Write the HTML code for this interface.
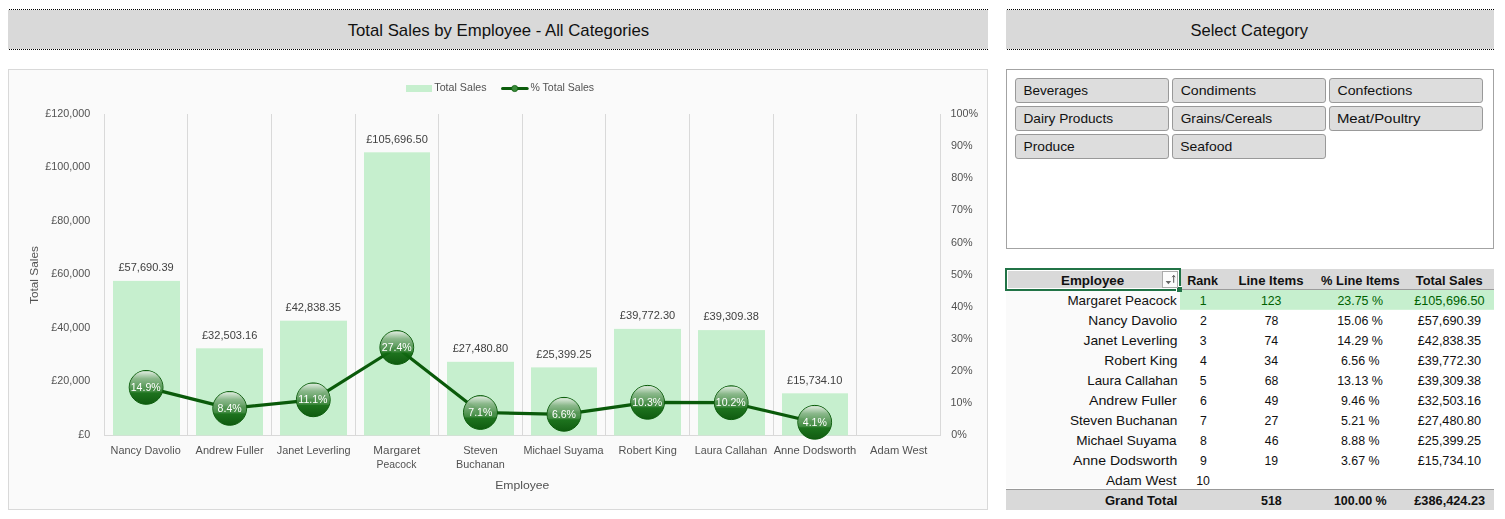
<!DOCTYPE html>
<html><head><meta charset="utf-8"><title>Dashboard</title>
<style>
html,body{margin:0;padding:0;background:#fff;}
body{width:1505px;height:519px;overflow:hidden;font-family:"Liberation Sans",sans-serif;}
svg{display:block;}
text{font-family:"Liberation Sans",sans-serif;}
</style></head><body>
<svg width="1505" height="519" viewBox="0 0 1505 519">
<defs>
<linearGradient id="base" x1="0" y1="0" x2="0" y2="1"><stop offset="0.6" stop-color="#167016"/><stop offset="1" stop-color="#045204"/></linearGradient>
<linearGradient id="gloss" x1="0" y1="0" x2="0" y2="1">
<stop offset="0" stop-color="#fff" stop-opacity="0.86"/>
<stop offset="0.35" stop-color="#fff" stop-opacity="0.48"/>
<stop offset="1" stop-color="#fff" stop-opacity="0.12"/>
</linearGradient>
<filter id="idf" x="0" y="0" width="1505" height="519" filterUnits="userSpaceOnUse"><feOffset dx="0" dy="0"/></filter>
<clipPath id="bc"><circle cx="0" cy="0" r="16.6"/></clipPath>
<g id="ball">
<circle cx="0" cy="0" r="16.9" fill="url(#base)" fill-opacity="0.94" stroke="#0b5c0b" stroke-width="1"/>
<rect x="-17" y="-16.2" width="34" height="21.2" fill="url(#gloss)" clip-path="url(#bc)"/>
</g>
</defs>
<rect width="1505" height="519" fill="#fff"/>

<rect x="8" y="10" width="980" height="39" fill="#d9d9d9"/>
<line x1="9" y1="9.5" x2="988" y2="9.5" stroke="#000" stroke-width="1" stroke-dasharray="1 1"/>
<line x1="9" y1="49.5" x2="988" y2="49.5" stroke="#000" stroke-width="1" stroke-dasharray="1 1"/>
<rect x="1006" y="10" width="488" height="39" fill="#d9d9d9"/>
<line x1="1007" y1="9.5" x2="1494" y2="9.5" stroke="#000" stroke-width="1" stroke-dasharray="1 1"/>
<line x1="1007" y1="49.5" x2="1494" y2="49.5" stroke="#000" stroke-width="1" stroke-dasharray="1 1"/>
<rect x="8.5" y="69.5" width="979" height="440" fill="#fafafa" stroke="#d9d9d9"/>
<line x1="104.5" y1="114.0" x2="104.5" y2="435.9" stroke="#d9d9d9" stroke-width="1"/>
<line x1="187.5" y1="114.0" x2="187.5" y2="435.9" stroke="#d9d9d9" stroke-width="1"/>
<line x1="271.5" y1="114.0" x2="271.5" y2="435.9" stroke="#d9d9d9" stroke-width="1"/>
<line x1="355.5" y1="114.0" x2="355.5" y2="435.9" stroke="#d9d9d9" stroke-width="1"/>
<line x1="438.5" y1="114.0" x2="438.5" y2="435.9" stroke="#d9d9d9" stroke-width="1"/>
<line x1="522.5" y1="114.0" x2="522.5" y2="435.9" stroke="#d9d9d9" stroke-width="1"/>
<line x1="605.5" y1="114.0" x2="605.5" y2="435.9" stroke="#d9d9d9" stroke-width="1"/>
<line x1="689.5" y1="114.0" x2="689.5" y2="435.9" stroke="#d9d9d9" stroke-width="1"/>
<line x1="773.5" y1="114.0" x2="773.5" y2="435.9" stroke="#d9d9d9" stroke-width="1"/>
<line x1="856.5" y1="114.0" x2="856.5" y2="435.9" stroke="#d9d9d9" stroke-width="1"/>
<line x1="940.5" y1="114.0" x2="940.5" y2="435.9" stroke="#d9d9d9" stroke-width="1"/>
<line x1="104" y1="435.5" x2="941" y2="435.5" stroke="#d9d9d9" stroke-width="1"/>
<rect x="113" y="280.9" width="67" height="154.5" fill="#c6efce"/>
<rect x="196" y="348.3" width="67" height="87.1" fill="#c6efce"/>
<rect x="280" y="320.7" width="67" height="114.7" fill="#c6efce"/>
<rect x="364" y="152.3" width="66" height="283.1" fill="#c6efce"/>
<rect x="447" y="361.8" width="67" height="73.6" fill="#c6efce"/>
<rect x="531" y="367.4" width="66" height="68.0" fill="#c6efce"/>
<rect x="614" y="328.9" width="67" height="106.5" fill="#c6efce"/>
<rect x="698" y="330.1" width="67" height="105.3" fill="#c6efce"/>
<rect x="782" y="393.3" width="66" height="42.1" fill="#c6efce"/>
<rect x="406" y="85" width="26" height="7" fill="#c6efce"/>
<line x1="502.5" y1="88.5" x2="527.2" y2="88.5" stroke="#0b5c0b" stroke-width="3" stroke-linecap="round"/>
<circle cx="514.7" cy="88.5" r="3.1" fill="#3a8a3a" stroke="#0b5c0b" stroke-width="0.8"/>
<polyline fill="none" stroke="#0a5a0a" stroke-width="3.2" stroke-linejoin="round" points="146.1,387.4 229.7,408.4 313.3,399.8 396.8,347.5 480.4,412.5 564.0,414.3 647.6,402.3 731.2,402.7 814.7,422.3"/>
<use href="#ball" x="146.1" y="387.4"/>
<use href="#ball" x="229.7" y="408.4"/>
<use href="#ball" x="313.3" y="399.8"/>
<use href="#ball" x="396.8" y="347.5"/>
<use href="#ball" x="480.4" y="412.5"/>
<use href="#ball" x="564.0" y="414.3"/>
<use href="#ball" x="647.6" y="402.3"/>
<use href="#ball" x="731.2" y="402.7"/>
<use href="#ball" x="814.7" y="422.3"/>
<rect x="1006.5" y="69.5" width="487" height="179" fill="#fff" stroke="#a3a3a3"/>
<rect x="1015.5" y="78.5" width="153" height="24" rx="2.6" ry="2.6" fill="#dddddd" stroke="#999"/>
<rect x="1172.5" y="78.5" width="153" height="24" rx="2.6" ry="2.6" fill="#dddddd" stroke="#999"/>
<rect x="1329.5" y="78.5" width="153" height="24" rx="2.6" ry="2.6" fill="#dddddd" stroke="#999"/>
<rect x="1015.5" y="106.5" width="153" height="24" rx="2.6" ry="2.6" fill="#dddddd" stroke="#999"/>
<rect x="1172.5" y="106.5" width="153" height="24" rx="2.6" ry="2.6" fill="#dddddd" stroke="#999"/>
<rect x="1329.5" y="106.5" width="153" height="24" rx="2.6" ry="2.6" fill="#dddddd" stroke="#999"/>
<rect x="1015.5" y="134.5" width="153" height="24" rx="2.6" ry="2.6" fill="#dddddd" stroke="#999"/>
<rect x="1172.5" y="134.5" width="153" height="24" rx="2.6" ry="2.6" fill="#dddddd" stroke="#999"/>
<rect x="1006" y="269" width="488" height="21" fill="#d9d9d9"/>
<line x1="1181" y1="289.5" x2="1494" y2="289.5" stroke="#9c9c9c"/>
<rect x="1006" y="290" width="174" height="198" fill="#fafafa"/>
<rect x="1180" y="290" width="314" height="19.8" fill="#c6efce"/>
<rect x="1006" y="489" width="488" height="21" fill="#d9d9d9"/>
<line x1="1006" y1="489.5" x2="1494" y2="489.5" stroke="#999"/>
<rect x="1006" y="269" width="174" height="21" fill="none" stroke="#217346" stroke-width="2"/>
<rect x="1007.5" y="270.5" width="171" height="18" fill="none" stroke="#fff" stroke-width="1"/>
<rect x="1177" y="287" width="5" height="5" fill="#217346"/>
<path d="M1176.5 291 V286.5 H1182" fill="none" stroke="#fff" stroke-width="1"/>
<rect x="1162.5" y="271.5" width="15" height="16" fill="#fcfcfc" stroke="#ababab"/>
<path d="M1165.6 281 L1171.2 281 L1168.4 284.2 Z" fill="#666"/>
<path d="M1173.7 282.8 L1173.7 275.6 M1172.2 277.2 L1173.7 275.4 L1175.2 277.2" fill="none" stroke="#555" stroke-width="1"/>
<text x="347.68" y="35.70" font-size="17" fill="#111" textLength="301.53" lengthAdjust="spacingAndGlyphs">Total Sales by Employee - All Categories</text>
<text x="1190.48" y="35.60" font-size="17" fill="#111" textLength="117.62" lengthAdjust="spacingAndGlyphs">Select Category</text>
<g id="charttext" filter="url(#idf)">
<text x="118.40" y="271.19" font-size="10.9" fill="#404040" textLength="55.28" lengthAdjust="spacingAndGlyphs">£57,690.39</text>
<text x="201.98" y="338.65" font-size="10.9" fill="#404040" textLength="55.37" lengthAdjust="spacingAndGlyphs">£32,503.16</text>
<text x="285.56" y="310.96" font-size="10.9" fill="#404040" textLength="55.32" lengthAdjust="spacingAndGlyphs">£42,838.35</text>
<text x="366.19" y="142.61" font-size="10.9" fill="#404040" textLength="61.66" lengthAdjust="spacingAndGlyphs">£105,696.50</text>
<text x="452.72" y="352.10" font-size="10.9" fill="#404040" textLength="55.35" lengthAdjust="spacingAndGlyphs">£27,480.80</text>
<text x="536.30" y="357.67" font-size="10.9" fill="#404040" textLength="55.32" lengthAdjust="spacingAndGlyphs">£25,399.25</text>
<text x="619.88" y="319.18" font-size="10.9" fill="#404040" textLength="55.35" lengthAdjust="spacingAndGlyphs">£39,772.30</text>
<text x="703.46" y="320.42" font-size="10.9" fill="#404040" textLength="55.35" lengthAdjust="spacingAndGlyphs">£39,309.38</text>
<text x="787.04" y="383.56" font-size="10.9" fill="#404040" textLength="55.35" lengthAdjust="spacingAndGlyphs">£15,734.10</text>
<text x="78.34" y="437.90" font-size="10.9" fill="#525252" textLength="12.00" lengthAdjust="spacingAndGlyphs">£0</text>
<text x="51.34" y="384.40" font-size="10.9" fill="#525252" textLength="38.98" lengthAdjust="spacingAndGlyphs">£20,000</text>
<text x="51.34" y="330.90" font-size="10.9" fill="#525252" textLength="38.98" lengthAdjust="spacingAndGlyphs">£40,000</text>
<text x="51.34" y="277.40" font-size="10.9" fill="#525252" textLength="38.98" lengthAdjust="spacingAndGlyphs">£60,000</text>
<text x="51.34" y="223.90" font-size="10.9" fill="#525252" textLength="38.98" lengthAdjust="spacingAndGlyphs">£80,000</text>
<text x="45.34" y="170.40" font-size="10.9" fill="#525252" textLength="44.98" lengthAdjust="spacingAndGlyphs">£100,000</text>
<text x="45.34" y="116.90" font-size="10.9" fill="#525252" textLength="44.98" lengthAdjust="spacingAndGlyphs">£120,000</text>
<text x="951.19" y="437.70" font-size="10.9" fill="#525252" textLength="15.59" lengthAdjust="spacingAndGlyphs">0%</text>
<text x="950.42" y="405.60" font-size="10.9" fill="#525252" textLength="21.59" lengthAdjust="spacingAndGlyphs">10%</text>
<text x="951.10" y="373.50" font-size="10.9" fill="#525252" textLength="21.59" lengthAdjust="spacingAndGlyphs">20%</text>
<text x="951.05" y="342.10" font-size="10.9" fill="#525252" textLength="21.59" lengthAdjust="spacingAndGlyphs">30%</text>
<text x="951.37" y="310.00" font-size="10.9" fill="#525252" textLength="21.59" lengthAdjust="spacingAndGlyphs">40%</text>
<text x="951.04" y="277.90" font-size="10.9" fill="#525252" textLength="21.59" lengthAdjust="spacingAndGlyphs">50%</text>
<text x="951.09" y="245.80" font-size="10.9" fill="#525252" textLength="21.59" lengthAdjust="spacingAndGlyphs">60%</text>
<text x="951.01" y="213.00" font-size="10.9" fill="#525252" textLength="21.59" lengthAdjust="spacingAndGlyphs">70%</text>
<text x="951.16" y="180.90" font-size="10.9" fill="#525252" textLength="21.59" lengthAdjust="spacingAndGlyphs">80%</text>
<text x="951.10" y="148.80" font-size="10.9" fill="#525252" textLength="21.59" lengthAdjust="spacingAndGlyphs">90%</text>
<text x="950.42" y="116.70" font-size="10.9" fill="#525252" textLength="27.58" lengthAdjust="spacingAndGlyphs">100%</text>
<text transform="translate(37.8,303.99) rotate(-90)" font-size="11.7" fill="#525252" textLength="57.88" lengthAdjust="spacingAndGlyphs">Total Sales</text>
<text x="495.17" y="489.00" font-size="11.4" fill="#525252" textLength="54.16" lengthAdjust="spacingAndGlyphs">Employee</text>
<text x="110.59" y="453.90" font-size="10.9" fill="#525252" textLength="70.18" lengthAdjust="spacingAndGlyphs">Nancy Davolio</text>
<text x="195.57" y="453.90" font-size="10.9" fill="#525252" textLength="68.03" lengthAdjust="spacingAndGlyphs">Andrew Fuller</text>
<text x="276.72" y="453.90" font-size="10.9" fill="#525252" textLength="73.85" lengthAdjust="spacingAndGlyphs">Janet Leverling</text>
<text x="373.38" y="453.90" font-size="10.9" fill="#525252" textLength="46.85" lengthAdjust="spacingAndGlyphs">Margaret</text>
<text x="376.55" y="467.70" font-size="10.9" fill="#525252" textLength="39.91" lengthAdjust="spacingAndGlyphs">Peacock</text>
<text x="463.26" y="453.90" font-size="10.9" fill="#525252" textLength="34.40" lengthAdjust="spacingAndGlyphs">Steven</text>
<text x="456.02" y="467.70" font-size="10.9" fill="#525252" textLength="48.83" lengthAdjust="spacingAndGlyphs">Buchanan</text>
<text x="523.39" y="453.90" font-size="10.9" fill="#525252" textLength="80.27" lengthAdjust="spacingAndGlyphs">Michael Suyama</text>
<text x="618.62" y="453.90" font-size="10.9" fill="#525252" textLength="58.15" lengthAdjust="spacingAndGlyphs">Robert King</text>
<text x="694.87" y="453.90" font-size="10.9" fill="#525252" textLength="72.39" lengthAdjust="spacingAndGlyphs">Laura Callahan</text>
<text x="773.67" y="453.90" font-size="10.9" fill="#525252" textLength="82.66" lengthAdjust="spacingAndGlyphs">Anne Dodsworth</text>
<text x="870.07" y="453.90" font-size="10.9" fill="#525252" textLength="57.37" lengthAdjust="spacingAndGlyphs">Adam West</text>
<text x="434.33" y="90.60" font-size="10.6" fill="#525252" textLength="52.22" lengthAdjust="spacingAndGlyphs">Total Sales</text>
<text x="530.49" y="90.60" font-size="10.6" fill="#525252" textLength="63.65" lengthAdjust="spacingAndGlyphs">% Total Sales</text>
<text x="130.71" y="391.02" font-size="11.5" fill="#fff" textLength="30.00" lengthAdjust="spacingAndGlyphs">14.9%</text>
<text x="217.59" y="411.97" font-size="11.5" fill="#fff" textLength="24.12" lengthAdjust="spacingAndGlyphs">8.4%</text>
<text x="298.30" y="403.37" font-size="11.5" fill="#fff" textLength="29.22" lengthAdjust="spacingAndGlyphs">11.1%</text>
<text x="381.79" y="351.09" font-size="11.5" fill="#fff" textLength="30.00" lengthAdjust="spacingAndGlyphs">27.4%</text>
<text x="468.26" y="416.14" font-size="11.5" fill="#fff" textLength="24.12" lengthAdjust="spacingAndGlyphs">7.1%</text>
<text x="551.88" y="417.87" font-size="11.5" fill="#fff" textLength="24.12" lengthAdjust="spacingAndGlyphs">6.6%</text>
<text x="632.19" y="405.92" font-size="11.5" fill="#fff" textLength="30.00" lengthAdjust="spacingAndGlyphs">10.3%</text>
<text x="715.77" y="406.31" font-size="11.5" fill="#fff" textLength="30.00" lengthAdjust="spacingAndGlyphs">10.2%</text>
<text x="802.76" y="425.91" font-size="11.5" fill="#fff" textLength="24.12" lengthAdjust="spacingAndGlyphs">4.1%</text>
</g>
<text x="1023.49" y="94.50" font-size="12.7" fill="#111" textLength="64.59" lengthAdjust="spacingAndGlyphs">Beverages</text>
<text x="1180.65" y="94.50" font-size="12.7" fill="#111" textLength="75.54" lengthAdjust="spacingAndGlyphs">Condiments</text>
<text x="1337.45" y="94.50" font-size="12.7" fill="#111" textLength="74.80" lengthAdjust="spacingAndGlyphs">Confections</text>
<text x="1023.48" y="122.50" font-size="12.7" fill="#111" textLength="89.59" lengthAdjust="spacingAndGlyphs">Dairy Products</text>
<text x="1180.69" y="122.50" font-size="12.7" fill="#111" textLength="91.48" lengthAdjust="spacingAndGlyphs">Grains/Cereals</text>
<text x="1336.90" y="122.50" font-size="12.7" fill="#111" textLength="83.64" lengthAdjust="spacingAndGlyphs">Meat/Poultry</text>
<text x="1023.48" y="150.50" font-size="12.7" fill="#111" textLength="51.31" lengthAdjust="spacingAndGlyphs">Produce</text>
<text x="1180.23" y="150.50" font-size="12.7" fill="#111" textLength="51.96" lengthAdjust="spacingAndGlyphs">Seafood</text>
<text x="1061.02" y="284.70" font-size="12.4" fill="#111" font-weight="bold" textLength="63.21" lengthAdjust="spacingAndGlyphs">Employee</text>
<text x="1187.25" y="284.70" font-size="12.4" fill="#111" font-weight="bold" textLength="30.80" lengthAdjust="spacingAndGlyphs">Rank</text>
<text x="1238.42" y="284.70" font-size="12.4" fill="#111" font-weight="bold" textLength="65.08" lengthAdjust="spacingAndGlyphs">Line Items</text>
<text x="1321.08" y="284.70" font-size="12.4" fill="#111" font-weight="bold" textLength="78.49" lengthAdjust="spacingAndGlyphs">% Line Items</text>
<text x="1415.78" y="284.70" font-size="12.4" fill="#111" font-weight="bold" textLength="66.97" lengthAdjust="spacingAndGlyphs">Total Sales</text>
<text x="1067.41" y="304.70" font-size="13" fill="#111" textLength="109.22" lengthAdjust="spacingAndGlyphs">Margaret Peacock</text>
<text x="1199.69" y="304.70" font-size="12.3" fill="#006100" textLength="6.84" lengthAdjust="spacingAndGlyphs">1</text>
<text x="1260.95" y="304.70" font-size="12.3" fill="#006100" textLength="20.53" lengthAdjust="spacingAndGlyphs">123</text>
<text x="1337.43" y="304.70" font-size="12.3" fill="#006100" textLength="45.58" lengthAdjust="spacingAndGlyphs">23.75 %</text>
<text x="1414.20" y="304.70" font-size="12.3" fill="#006100" textLength="70.44" lengthAdjust="spacingAndGlyphs">£105,696.50</text>
<text x="1088.38" y="324.70" font-size="13" fill="#111" textLength="88.78" lengthAdjust="spacingAndGlyphs">Nancy Davolio</text>
<text x="1199.91" y="324.70" font-size="12.3" fill="#111" textLength="6.84" lengthAdjust="spacingAndGlyphs">2</text>
<text x="1264.67" y="324.70" font-size="12.3" fill="#111" textLength="13.69" lengthAdjust="spacingAndGlyphs">78</text>
<text x="1337.21" y="324.70" font-size="12.3" fill="#111" textLength="45.58" lengthAdjust="spacingAndGlyphs">15.06 %</text>
<text x="1417.74" y="324.70" font-size="12.3" fill="#111" textLength="63.39" lengthAdjust="spacingAndGlyphs">£57,690.39</text>
<text x="1083.47" y="344.70" font-size="13" fill="#111" textLength="94.03" lengthAdjust="spacingAndGlyphs">Janet Leverling</text>
<text x="1199.87" y="344.70" font-size="12.3" fill="#111" textLength="6.84" lengthAdjust="spacingAndGlyphs">3</text>
<text x="1264.40" y="344.70" font-size="12.3" fill="#111" textLength="13.69" lengthAdjust="spacingAndGlyphs">74</text>
<text x="1337.21" y="344.70" font-size="12.3" fill="#111" textLength="45.58" lengthAdjust="spacingAndGlyphs">14.29 %</text>
<text x="1417.75" y="344.70" font-size="12.3" fill="#111" textLength="63.39" lengthAdjust="spacingAndGlyphs">£42,838.35</text>
<text x="1104.28" y="364.70" font-size="13" fill="#111" textLength="73.27" lengthAdjust="spacingAndGlyphs">Robert King</text>
<text x="1199.97" y="364.70" font-size="12.3" fill="#111" textLength="6.84" lengthAdjust="spacingAndGlyphs">4</text>
<text x="1264.37" y="364.70" font-size="12.3" fill="#111" textLength="13.69" lengthAdjust="spacingAndGlyphs">34</text>
<text x="1340.92" y="364.70" font-size="12.3" fill="#111" textLength="38.68" lengthAdjust="spacingAndGlyphs">6.56 %</text>
<text x="1417.72" y="364.70" font-size="12.3" fill="#111" textLength="63.39" lengthAdjust="spacingAndGlyphs">£39,772.30</text>
<text x="1087.32" y="384.70" font-size="13" fill="#111" textLength="90.27" lengthAdjust="spacingAndGlyphs">Laura Callahan</text>
<text x="1199.85" y="384.70" font-size="12.3" fill="#111" textLength="6.84" lengthAdjust="spacingAndGlyphs">5</text>
<text x="1264.67" y="384.70" font-size="12.3" fill="#111" textLength="13.69" lengthAdjust="spacingAndGlyphs">68</text>
<text x="1337.21" y="384.70" font-size="12.3" fill="#111" textLength="45.58" lengthAdjust="spacingAndGlyphs">13.13 %</text>
<text x="1417.75" y="384.70" font-size="12.3" fill="#111" textLength="63.39" lengthAdjust="spacingAndGlyphs">£39,309.38</text>
<text x="1088.98" y="404.70" font-size="13" fill="#111" textLength="87.79" lengthAdjust="spacingAndGlyphs">Andrew Fuller</text>
<text x="1199.91" y="404.70" font-size="12.3" fill="#111" textLength="6.84" lengthAdjust="spacingAndGlyphs">6</text>
<text x="1264.78" y="404.70" font-size="12.3" fill="#111" textLength="13.69" lengthAdjust="spacingAndGlyphs">49</text>
<text x="1340.93" y="404.70" font-size="12.3" fill="#111" textLength="38.68" lengthAdjust="spacingAndGlyphs">9.46 %</text>
<text x="1417.76" y="404.70" font-size="12.3" fill="#111" textLength="63.39" lengthAdjust="spacingAndGlyphs">£32,503.16</text>
<text x="1069.93" y="424.70" font-size="13" fill="#111" textLength="107.41" lengthAdjust="spacingAndGlyphs">Steven Buchanan</text>
<text x="1199.91" y="424.70" font-size="12.3" fill="#111" textLength="6.84" lengthAdjust="spacingAndGlyphs">7</text>
<text x="1264.62" y="424.70" font-size="12.3" fill="#111" textLength="13.69" lengthAdjust="spacingAndGlyphs">27</text>
<text x="1340.90" y="424.70" font-size="12.3" fill="#111" textLength="38.68" lengthAdjust="spacingAndGlyphs">5.21 %</text>
<text x="1417.72" y="424.70" font-size="12.3" fill="#111" textLength="63.39" lengthAdjust="spacingAndGlyphs">£27,480.80</text>
<text x="1076.19" y="444.70" font-size="13" fill="#111" textLength="100.43" lengthAdjust="spacingAndGlyphs">Michael Suyama</text>
<text x="1199.92" y="444.70" font-size="12.3" fill="#111" textLength="6.84" lengthAdjust="spacingAndGlyphs">8</text>
<text x="1264.83" y="444.70" font-size="12.3" fill="#111" textLength="13.69" lengthAdjust="spacingAndGlyphs">46</text>
<text x="1340.95" y="444.70" font-size="12.3" fill="#111" textLength="38.68" lengthAdjust="spacingAndGlyphs">8.88 %</text>
<text x="1417.75" y="444.70" font-size="12.3" fill="#111" textLength="63.39" lengthAdjust="spacingAndGlyphs">£25,399.25</text>
<text x="1073.08" y="464.70" font-size="13" fill="#111" textLength="104.19" lengthAdjust="spacingAndGlyphs">Anne Dodsworth</text>
<text x="1199.91" y="464.70" font-size="12.3" fill="#111" textLength="6.84" lengthAdjust="spacingAndGlyphs">9</text>
<text x="1264.41" y="464.70" font-size="12.3" fill="#111" textLength="13.69" lengthAdjust="spacingAndGlyphs">19</text>
<text x="1340.91" y="464.70" font-size="12.3" fill="#111" textLength="38.68" lengthAdjust="spacingAndGlyphs">3.67 %</text>
<text x="1417.72" y="464.70" font-size="12.3" fill="#111" textLength="63.39" lengthAdjust="spacingAndGlyphs">£15,734.10</text>
<text x="1105.98" y="484.70" font-size="13" fill="#111" textLength="70.56" lengthAdjust="spacingAndGlyphs">Adam West</text>
<text x="1196.24" y="484.70" font-size="12.3" fill="#111" textLength="13.69" lengthAdjust="spacingAndGlyphs">10</text>
<text x="1104.90" y="504.60" font-size="12.4" fill="#111" font-weight="bold" textLength="72.48" lengthAdjust="spacingAndGlyphs">Grand Total</text>
<text x="1260.94" y="504.60" font-size="12.4" fill="#111" font-weight="bold" textLength="20.84" lengthAdjust="spacingAndGlyphs">518</text>
<text x="1333.93" y="504.60" font-size="12.4" fill="#111" font-weight="bold" textLength="52.80" lengthAdjust="spacingAndGlyphs">100.00 %</text>
<text x="1414.28" y="504.60" font-size="12.4" fill="#111" font-weight="bold" textLength="70.93" lengthAdjust="spacingAndGlyphs">£386,424.23</text>
</svg></body></html>
